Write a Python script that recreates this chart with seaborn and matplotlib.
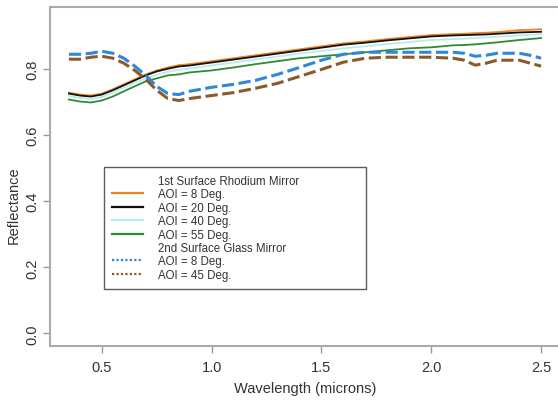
import matplotlib
matplotlib.use("Agg")
import matplotlib.pyplot as plt
import seaborn as sns
import numpy as np
import pandas as pd
from matplotlib.lines import Line2D

wl = [0.35, 0.40, 0.45, 0.50, 0.55, 0.60, 0.65, 0.70, 0.75, 0.80, 0.85, 0.90,
      1.0, 1.1, 1.2, 1.3, 1.4, 1.5, 1.6, 1.7, 1.8, 1.9, 2.0, 2.1, 2.15, 2.2,
      2.25, 2.3, 2.4, 2.45, 2.5]

rh_8 = [0.729, 0.723, 0.720, 0.726, 0.739, 0.754, 0.769, 0.784, 0.796, 0.805, 0.812, 0.815,
        0.824, 0.833, 0.842, 0.851, 0.860, 0.869, 0.878, 0.884, 0.891, 0.897, 0.903, 0.906, 0.907, 0.909,
        0.910, 0.912, 0.918, 0.919, 0.921]
rh_20 = [0.726, 0.720, 0.717, 0.723, 0.736, 0.751, 0.766, 0.781, 0.793, 0.801, 0.808, 0.811,
         0.820, 0.829, 0.838, 0.847, 0.856, 0.865, 0.874, 0.880, 0.887, 0.893, 0.899, 0.902, 0.903, 0.904,
         0.905, 0.907, 0.911, 0.912, 0.913]
rh_40 = [0.719, 0.713, 0.710, 0.716, 0.729, 0.744, 0.758, 0.772, 0.783, 0.792, 0.798, 0.802,
         0.811, 0.820, 0.829, 0.838, 0.847, 0.855, 0.863, 0.869, 0.876, 0.882, 0.888, 0.891, 0.892, 0.894,
         0.896, 0.898, 0.902, 0.904, 0.906]
rh_55 = [0.708, 0.702, 0.699, 0.705, 0.717, 0.733, 0.748, 0.763, 0.772, 0.781, 0.784, 0.790,
         0.796, 0.805, 0.815, 0.824, 0.833, 0.839, 0.845, 0.851, 0.857, 0.863, 0.866, 0.872, 0.873, 0.875,
         0.878, 0.881, 0.888, 0.891, 0.894]
gl_8 = [0.845, 0.845, 0.848, 0.854, 0.848, 0.833, 0.809, 0.781, 0.748, 0.726, 0.723, 0.733,
        0.745, 0.754, 0.766, 0.784, 0.805, 0.827, 0.845, 0.851, 0.851, 0.851, 0.851, 0.851, 0.848, 0.839,
        0.842, 0.848, 0.848, 0.842, 0.833]
gl_45 = [0.830, 0.830, 0.836, 0.839, 0.833, 0.818, 0.796, 0.769, 0.736, 0.711, 0.705, 0.711,
         0.720, 0.729, 0.742, 0.757, 0.778, 0.799, 0.821, 0.833, 0.836, 0.836, 0.836, 0.833, 0.827, 0.812,
         0.818, 0.827, 0.827, 0.818, 0.809]

rhodium = [("AOI = 8 Deg.", rh_8, "#F08224"), ("AOI = 20 Deg.", rh_20, "#111111"),
           ("AOI = 40 Deg.", rh_40, "#B8ECEC"), ("AOI = 55 Deg.", rh_55, "#2E8B34")]
glass = [("AOI = 8 Deg.", gl_8, "#2F86DA"), ("AOI = 45 Deg.", gl_45, "#8B5A2B")]

plt.rcParams["font.family"] = ["Liberation Sans", "DejaVu Sans"]
fig = plt.figure(figsize=(5.58, 4.02), dpi=100)
ax = fig.add_axes([50 / 558, 55 / 402, 510 / 558, 339 / 402])

for name, vals, col in rhodium:
    sns.lineplot(x=wl, y=vals, ax=ax, color=col, linewidth=1.3)
for name, vals, col in glass:
    sns.lineplot(x=wl, y=vals, ax=ax, color=col, linewidth=2.2, linestyle=(0, (4, 1.5)))

ax.set_xlim(0.264, 2.586)
ax.set_ylim(-0.038, 0.988)
ax.set_xticks([0.5, 1.0, 1.5, 2.0, 2.5])
ax.set_yticks([0.0, 0.2, 0.4, 0.6, 0.8])
ax.set_yticklabels(["0.0", "0.2", "0.4", "0.6", "0.8"], rotation=90, va="center")
ax.tick_params(labelsize=10.5, length=5, width=1, direction="out", colors="#999999",
               labelcolor="#333333")
ax.tick_params(axis="y", pad=3)
ax.tick_params(axis="x", pad=5)
for s in ax.spines.values():
    s.set_color("#AAAAAA")
    s.set_linewidth(1.5)
ax.set_xlabel("Wavelength (microns)", fontsize=10.5, color="#333333", labelpad=5)
ax.set_ylabel("Reflectance", fontsize=10.5, color="#333333")
ax.yaxis.set_label_coords(-0.057, 0.419)

handles = [Line2D([], [], color="none")]
labels = ["1st Surface Rhodium Mirror"]
for name, vals, col in rhodium:
    handles.append(Line2D([], [], color=col, linewidth=1.6))
    labels.append(name)
handles.append(Line2D([], [], color="none"))
labels.append("2nd Surface Glass Mirror")
for name, vals, col in glass:
    handles.append(Line2D([], [], color=col, linewidth=1.6, linestyle=(0, (1, 1))))
    labels.append(name)

leg = ax.legend(handles, labels, loc="upper left", bbox_to_anchor=(0.106, 0.528, 0.514, 0.0),
                mode="expand", borderaxespad=0, fontsize=8.3, labelspacing=0.12,
                handlelength=2.7, handletextpad=1.3, borderpad=0.7, fancybox=False, frameon=True)
leg.get_frame().set_edgecolor("#333333")
leg.get_frame().set_linewidth(1)
for t in leg.get_texts():
    t.set_color("#333333")

fig.savefig("out.png", dpi=100)
plt.close(fig)
